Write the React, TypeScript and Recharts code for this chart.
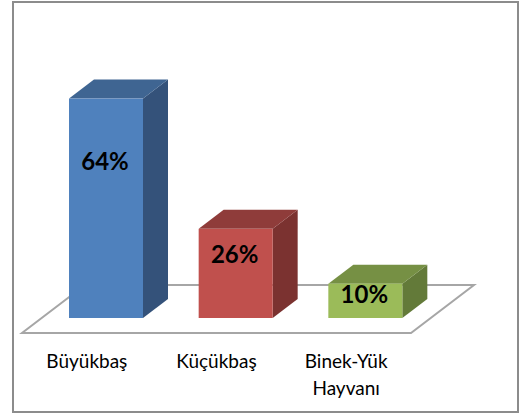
import { BarChart, Bar, XAxis, YAxis, LabelList, Customized, usePlotArea } from 'recharts';

const categories = ['Büyükbaş', 'Küçükbaş', 'Binek-Yük Hayvanı'];
const shares = [64, 26, 10];
const frontColors = ['#4f81bd', '#c0504d', '#9bbb59'];
const topColors = ['#3f6592', '#8f3c3a', '#769044'];
const sideColors = ['#34527a', '#7b3230', '#637a39'];

const data = categories.map((name, i) => ({ name, share: shares[i] }));

const DEPTH_X = 25;
const DEPTH_Y = 19;
const FONT = 'Lato, "Open Sans", "Noto Sans", sans-serif';

// 3d box: front face plus top and side faces
function Box3D(props: any) {
  const { x, y, width, height, index } = props;
  const r = x + width;
  const b = y + height;
  return (
    <g>
      <polygon
        points={`${r},${y} ${r + DEPTH_X},${y - DEPTH_Y} ${r + DEPTH_X},${b - DEPTH_Y} ${r},${b}`}
        fill={sideColors[index]}
      />
      <polygon
        points={`${x},${y} ${x + DEPTH_X},${y - DEPTH_Y} ${r + DEPTH_X},${y - DEPTH_Y} ${r},${y}`}
        fill={topColors[index]}
      />
      <rect x={x} y={y} width={width} height={height} fill={frontColors[index]} />
    </g>
  );
}

// floor of the 3d chart, follows the plot area
function Floor() {
  const plot = usePlotArea();
  if (!plot) return null;
  const left = plot.x - 19;
  const right = plot.x + plot.width - 19;
  const front = plot.y + plot.height + 15;
  const back = front - 48;
  return (
    <polygon
      points={`${left},${front} ${right},${front} ${right + 63},${back} ${left + 63},${back}`}
      fill="#ffffff"
      stroke="#a6a6a6"
      strokeWidth={2}
    />
  );
}

function CategoryTick(props: any) {
  const { x, y, payload } = props;
  const words = payload.value === 'Binek-Yük Hayvanı' ? ['Binek-Yük', 'Hayvanı'] : [payload.value];
  return (
    <text x={x - 19} y={y + 7} textAnchor="middle" fontFamily={FONT} fontSize={19} fill="#000000">
      {words.map((w: string, i: number) => (
        <tspan key={w} x={x - 19} dy={i === 0 ? 0 : 27}>
          {w}
        </tspan>
      ))}
    </text>
  );
}

function ShareLabel(props: any) {
  const { x, y, width, height, value } = props;
  return (
    <text
      x={x + width / 2 - 1}
      y={y + height * 0.28}
      textAnchor="middle"
      dominantBaseline="central"
      fontFamily={FONT}
      fontSize={24}
      fontWeight={700}
      fill="#000000"
    >
      {value}%
    </text>
  );
}

export default function App() {
  return (
    <div style={{ position: 'absolute', left: 0, top: 0, width: 529, height: 413, background: '#fff' }}>
      <div
        style={{
          position: 'absolute',
          left: 12,
          top: 1,
          width: 503,
          height: 408,
          border: '2px solid #8c8c8c',
        }}
      />
      <BarChart
        width={529}
        height={413}
        data={data}
        margin={{ top: 78, right: 99, bottom: 35, left: 41 }}
        style={{ position: 'absolute', left: 0, top: 0 }}
      >
        <Customized component={Floor} />
        <XAxis
          dataKey="name"
          axisLine={false}
          tickLine={false}
          height={60}
          interval={0}
          tick={CategoryTick}
          tickMargin={37}
        />
        <YAxis hide domain={[0, 70]} />
        <Bar dataKey="share" barSize={74} shape={Box3D} isAnimationActive={false}>
          <LabelList dataKey="share" content={ShareLabel} />
        </Bar>
      </BarChart>
    </div>
  );
}
